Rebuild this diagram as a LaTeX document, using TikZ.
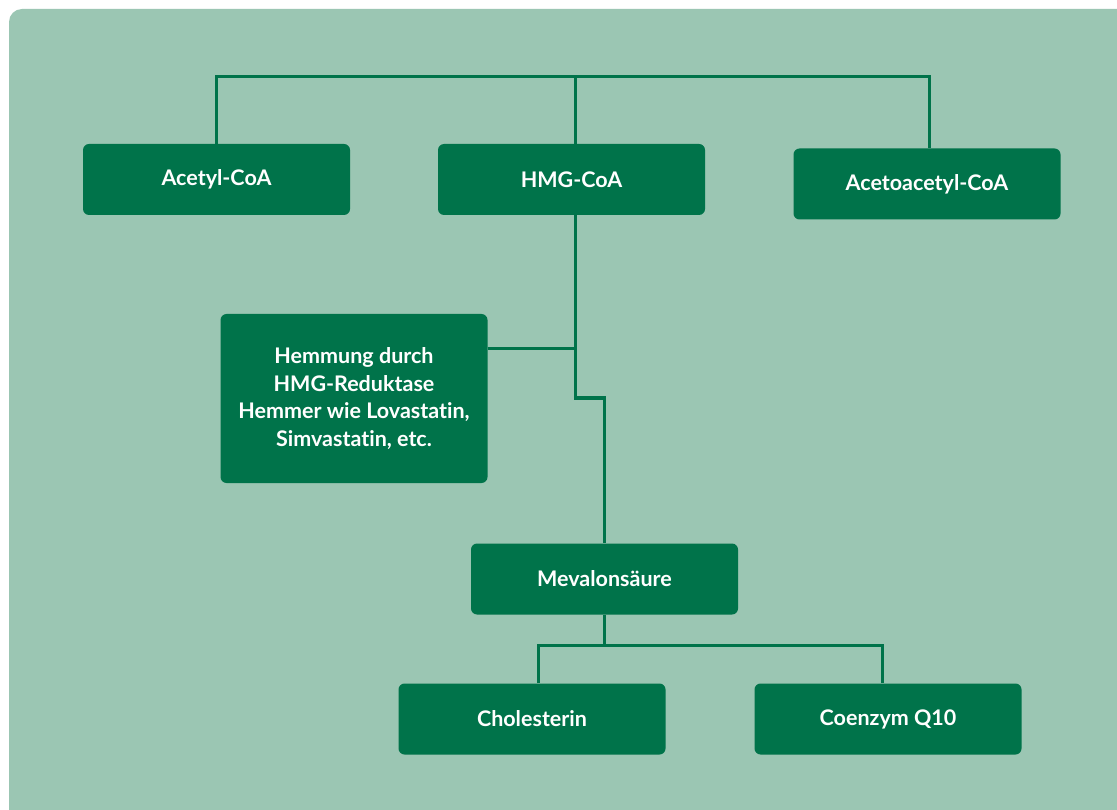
\documentclass[tikz,border=0pt]{standalone}
\usepackage{fontspec}
\setmainfont{Lato}[Ligatures=NoCommon]
\definecolor{bgc}{HTML}{9BC6B3}
\definecolor{boxc}{HTML}{00734A}
\begin{document}
\begin{tikzpicture}[x=1pt,y=-1pt,
  box/.style={fill=boxc,rounded corners=6pt,minimum width=267pt,minimum height=71pt,
    text=white,font=\bfseries\fontsize{21.5}{27.5}\selectfont,align=center,inner sep=0pt},
  link/.style={draw=boxc,line width=3pt}]
\useasboundingbox (0,0) rectangle (1117,810);
\fill[white] (0,0) rectangle (1117,810);
\fill[bgc,rounded corners=13pt] (9,9) rectangle (1140,840);
\node[box] (acetyl) at (216.5,179.5) {Acetyl-CoA};
\node[box] (hmg) at (571.5,179.5) {HMG-CoA};
\node[box] (aceto) at (927,184) {Acetoacetyl-CoA};
\node[box,minimum height=169pt] (hemm) at (354,398.5) {Hemmung durch\\HMG-Reduktase\\Hemmer wie Lovastatin,\\Simvastatin, etc.};
\node[box] (meva) at (604.5,579) {Mevalonsäure};
\node[box] (chol) at (532,719) {Cholesterin};
\node[box] (coq) at (888,719) {Coenzym Q10};
\coordinate (top) at (575,77);
\draw[link] (acetyl.north -| 216,0) |- (top) -| (aceto.north -| 929,0);
\draw[link] (hmg.north -| top) -- (top);
\coordinate (j1) at (575,349);
\coordinate (j2) at (575,398);
\coordinate (j3) at (604,398);
\draw[link] (hmg.south -| j1) -- (j2) -- (j3) -- (meva.north -| j3);
\draw[link] (hemm.east |- j1) -- (j1);
\coordinate (j4) at (604,645);
\draw[link] (meva.south -| j4) -- (j4);
\draw[link] (chol.north -| 538,0) |- (j4) -| (coq.north -| 882,0);
\end{tikzpicture}
\end{document}
